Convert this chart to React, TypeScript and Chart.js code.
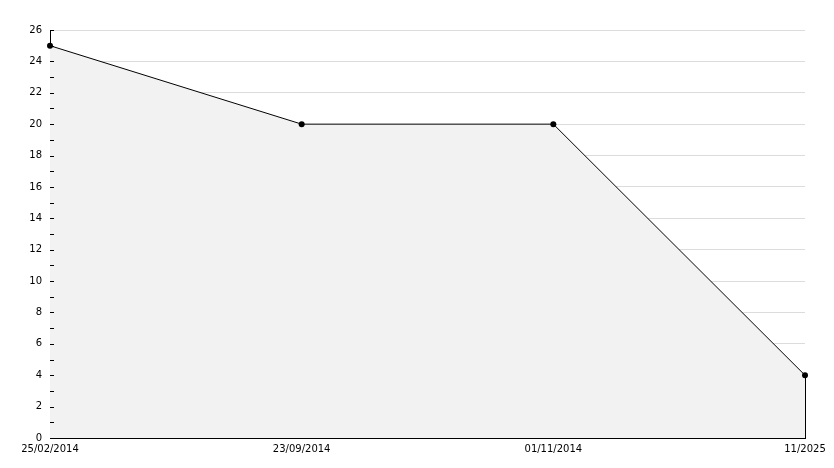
import React, { useEffect, useRef } from "react";
import { Chart, registerables } from "chart.js";

Chart.register(...registerables);

const categories = ["25/02/2014", "23/09/2014", "01/11/2014", "11/2025"];
const values = [25, 20, 20, 4];
const yMin = 0;
const yMax = 26;
const yStep = 2;

const extrasPlugin = {
  id: "extras",
  afterDatasetsDraw(chart: any) {
    const ctx = chart.ctx;
    const y = chart.scales.y;
    const meta = chart.getDatasetMeta(0);
    const last = meta.data[meta.data.length - 1];
    ctx.save();
    ctx.strokeStyle = "#000";
    ctx.lineWidth = 1;
    // closing vertical edge of the filled area
    ctx.beginPath();
    ctx.moveTo(Math.round(last.x) + 0.5, last.y);
    ctx.lineTo(Math.round(last.x) + 0.5, y.getPixelForValue(yMin));
    ctx.stroke();
    // inner ticks on y axis (major + minor)
    const left = chart.chartArea.left;
    for (let v = yMin; v <= yMax; v += 1) {
      const py = Math.round(y.getPixelForValue(v)) + 0.5;
      ctx.beginPath();
      ctx.moveTo(left, py);
      ctx.lineTo(left + 4, py);
      ctx.stroke();
    }
    ctx.restore();
  },
};

export default function App() {
  const ref = useRef<HTMLCanvasElement>(null);
  useEffect(() => {
    document.body.style.margin = "0";
    const chart = new Chart(ref.current!, {
      type: "line",
      data: {
        labels: categories,
        datasets: [
          {
            data: values,
            borderColor: "#000",
            borderWidth: 1,
            backgroundColor: "#f2f2f2",
            fill: "origin",
            tension: 0,
            pointRadius: 3,
            pointBackgroundColor: "#000",
            pointBorderColor: "#000",
            pointBorderWidth: 0,
          },
        ],
      },
      options: {
        animation: false,
        responsive: false,
        maintainAspectRatio: false,
        layout: { padding: { top: 30, right: 29, left: 0, bottom: 0 } },
        plugins: { legend: { display: false }, tooltip: { enabled: false } },
        scales: {
          x: {
            offset: false,
            grid: { display: false, drawTicks: false },
            border: { color: "#000", width: 1 },
            ticks: {
              color: "#000",
              font: { family: "DejaVu Sans", size: 10 },
              padding: 5,
              maxRotation: 0,
              autoSkip: false,
            },
            afterFit: (s: any) => {
              s.height = 30;
            },
          },
          y: {
            min: yMin,
            max: yMax,
            grid: { color: "#dcdcdc", drawTicks: false },
            border: { color: "#000", width: 1 },
            ticks: {
              stepSize: yStep,
              color: "#000",
              font: { family: "DejaVu Sans", size: 10 },
              padding: 8,
            },
            afterFit: (s: any) => {
              s.width = 50;
            },
          },
        },
      },
      plugins: [extrasPlugin],
    });
    return () => chart.destroy();
  }, []);
  return (
    <div style={{ width: 834, height: 468, background: "#fff" }}>
      <canvas ref={ref} width={834} height={468} />
    </div>
  );
}
